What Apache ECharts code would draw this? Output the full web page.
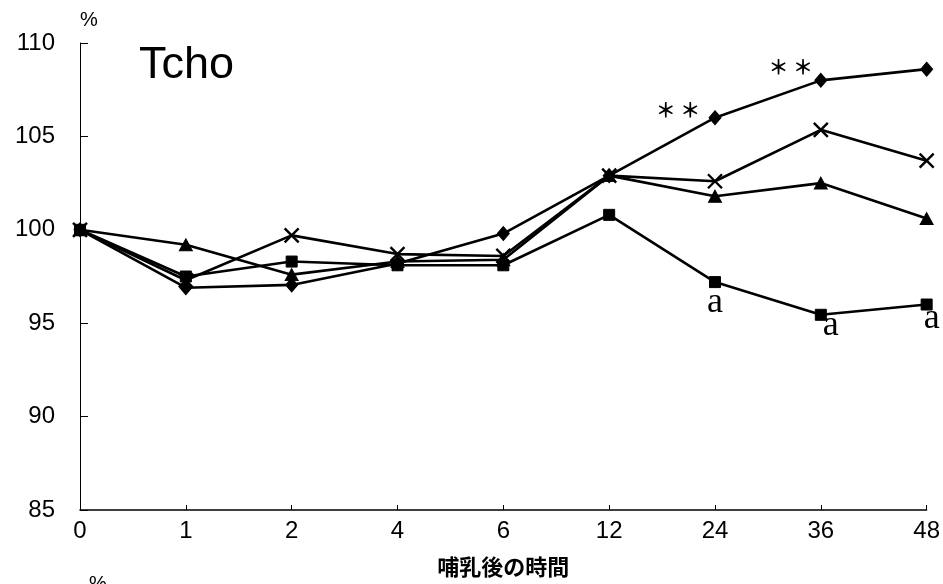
<!DOCTYPE html>
<html>
<head>
<meta charset="utf-8">
<script src="https://cdn.jsdelivr.net/npm/echarts@6/dist/echarts.min.js"></script>
<style>
  html, body { margin: 0; padding: 0; background: #fff; }
  #chart { width: 943px; height: 584px; }
</style>
</head>
<body>
<div id="chart"></div>
<script>
// Hours after feeding (evenly spaced categories)
const categories = ['0', '1', '2', '4', '6', '12', '24', '36', '48'];

// Tcho, % of baseline, one array per group
const diamondValues  = [100, 96.9, 97.05, 98.2, 99.8, 102.9, 106.0, 108.0, 108.6];
const crossValues    = [100, 97.3, 99.7, 98.7, 98.6, 102.9, 102.6, 105.35, 103.7];
const triangleValues = [100, 99.2, 97.6, 98.3, 98.4, 102.9, 101.8, 102.5, 100.6];
const squareValues   = [100, 97.5, 98.3, 98.1, 98.1, 100.8, 97.2, 95.45, 96.0];

// Significance marks attached to individual points
const diamondMarks = ['', '', '', '', '', '', '＊ ＊', '＊ ＊', ''];
const squareMarks  = ['', '', '', '', '', '', 'a', 'a', 'a'];

const yTicks = [85, 90, 95, 100, 105, 110];

const chart = echarts.init(document.getElementById('chart'), null, { renderer: 'canvas' });

const crossPath = 'path://M0,0 L10,10 M10,0 L0,10';

function withMarks(values, marks, labelFor) {
  return values.map((v, i) => {
    if (!marks[i]) return v;
    return { value: v, label: Object.assign({ show: true, formatter: marks[i] }, labelFor(i)) };
  });
}

const starOffsets = { 6: [-37, -7], 7: [-30, -13] };
const aOffsets = { 6: [0, 20], 7: [10, 11], 8: [5, 14] };

const lineBase = {
  type: 'line',
  smooth: false,
  lineStyle: { color: '#000', width: 2.6 },
  itemStyle: { color: '#000', borderColor: '#000' },
  emphasis: { disabled: true },
  animation: false,
  z: 3
};

const sansFont = 'Liberation Sans, Arial, sans-serif';

chart.setOption({
  backgroundColor: '#fff',
  animation: false,
  grid: { left: 80, right: 16, top: 43, bottom: 74, containLabel: false },
  xAxis: {
    type: 'category',
    data: categories,
    boundaryGap: false,
    axisLine: { show: true, lineStyle: { color: '#000', width: 1.5 } },
    axisTick: { show: true, inside: true, length: 5, alignWithLabel: true, lineStyle: { color: '#000', width: 1 } },
    axisLabel: { color: '#000', fontSize: 24, fontFamily: sansFont, margin: 9 },
    splitLine: { show: false },
    name: '哺乳後の時間',
    nameLocation: 'middle',
    nameGap: 46,
    nameTextStyle: { color: '#000', fontSize: 22, fontWeight: 'bold', fontFamily: 'Noto Sans CJK JP, sans-serif' }
  },
  yAxis: {
    type: 'value',
    min: yTicks[0],
    max: yTicks[yTicks.length - 1],
    interval: 5,
    axisLine: { show: true, lineStyle: { color: '#000', width: 1 } },
    axisTick: { show: true, inside: true, length: 8, lineStyle: { color: '#000', width: 1 } },
    axisLabel: { color: '#000', fontSize: 24, fontFamily: sansFont, margin: 25 },
    splitLine: { show: false }
  },
  graphic: [
    { type: 'text', left: 80, top: 10, style: { text: '%', fontSize: 20, fontFamily: sansFont, fill: '#000' } },
    { type: 'text', left: 139, top: 43, style: { text: 'Tcho', fontSize: 45, fontFamily: sansFont, fill: '#000' } },
    { type: 'text', left: 89, top: 574, style: { text: '%', fontSize: 20, fontFamily: sansFont, fill: '#000' } }
  ],
  series: [
    Object.assign({}, lineBase, {
      name: 'diamond',
      symbol: 'diamond',
      symbolSize: [12, 14],
      data: withMarks(diamondValues, diamondMarks, i => ({
        position: 'inside', offset: starOffsets[i], color: '#000', fontSize: 20, fontWeight: 'bold',
        fontFamily: 'Noto Sans CJK JP, sans-serif'
      }))
    }),
    Object.assign({}, lineBase, {
      name: 'cross',
      symbol: crossPath,
      symbolSize: 14,
      symbolKeepAspect: true,
      itemStyle: { color: '#000', borderColor: '#000', borderWidth: 2.4 },
      data: crossValues
    }),
    Object.assign({}, lineBase, {
      name: 'triangle',
      symbol: 'triangle',
      symbolSize: [13, 12],
      data: triangleValues
    }),
    Object.assign({}, lineBase, {
      name: 'square',
      symbol: 'rect',
      symbolSize: 11,
      data: withMarks(squareValues, squareMarks, i => ({
        position: 'inside', offset: aOffsets[i], color: '#000', fontSize: 36,
        fontFamily: 'Liberation Serif, Times New Roman, serif'
      }))
    })
  ]
});
</script>
</body>
</html>
